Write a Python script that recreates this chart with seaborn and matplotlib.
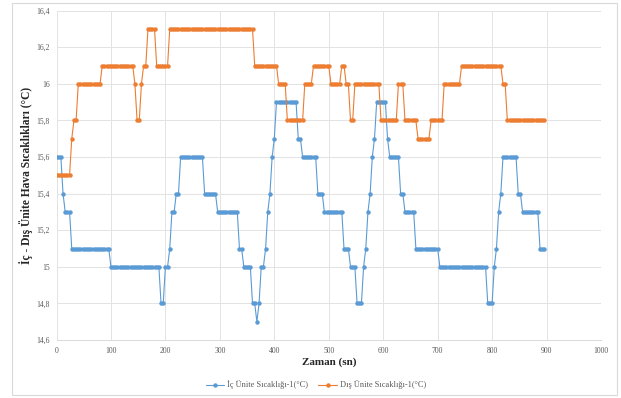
import numpy as np
import pandas as pd
import matplotlib
matplotlib.use("Agg")
import matplotlib.pyplot as plt
from matplotlib.patches import Rectangle
import seaborn as sns

# sampling interval of the logger (s)
time_step = 4

# İç ünite sıcaklığı, one row = 40 s
ic_temp = [
    15.6, 15.6, 15.6, 15.4, 15.3, 15.3, 15.3, 15.1, 15.1, 15.1,
    15.1, 15.1, 15.1, 15.1, 15.1, 15.1, 15.1, 15.1, 15.1, 15.1,
    15.1, 15.1, 15.1, 15.1, 15.1, 15.0, 15.0, 15.0, 15.0, 15.0,
    15.0, 15.0, 15.0, 15.0, 15.0, 15.0, 15.0, 15.0, 15.0, 15.0,
    15.0, 15.0, 15.0, 15.0, 15.0, 15.0, 15.0, 15.0, 14.8, 14.8,
    15.0, 15.0, 15.1, 15.3, 15.3, 15.4, 15.4, 15.6, 15.6, 15.6,
    15.6, 15.6, 15.6, 15.6, 15.6, 15.6, 15.6, 15.6, 15.4, 15.4,
    15.4, 15.4, 15.4, 15.4, 15.3, 15.3, 15.3, 15.3, 15.3, 15.3,
    15.3, 15.3, 15.3, 15.3, 15.1, 15.1, 15.0, 15.0, 15.0, 15.0,
    14.8, 14.8, 14.7, 14.8, 15.0, 15.0, 15.1, 15.3, 15.4, 15.6,
    15.7, 15.9, 15.9, 15.9, 15.9, 15.9, 15.9, 15.9, 15.9, 15.9,
    15.9, 15.7, 15.7, 15.6, 15.6, 15.6, 15.6, 15.6, 15.6, 15.6,
    15.4, 15.4, 15.4, 15.3, 15.3, 15.3, 15.3, 15.3, 15.3, 15.3,
    15.3, 15.3, 15.1, 15.1, 15.1, 15.0, 15.0, 15.0, 14.8, 14.8,
    14.8, 15.0, 15.1, 15.3, 15.4, 15.6, 15.7, 15.9, 15.9, 15.9,
    15.9, 15.9, 15.7, 15.6, 15.6, 15.6, 15.6, 15.6, 15.4, 15.4,
    15.3, 15.3, 15.3, 15.3, 15.3, 15.1, 15.1, 15.1, 15.1, 15.1,
    15.1, 15.1, 15.1, 15.1, 15.1, 15.1, 15.0, 15.0, 15.0, 15.0,
    15.0, 15.0, 15.0, 15.0, 15.0, 15.0, 15.0, 15.0, 15.0, 15.0,
    15.0, 15.0, 15.0, 15.0, 15.0, 15.0, 15.0, 15.0, 14.8, 14.8,
    14.8, 15.0, 15.1, 15.3, 15.4, 15.6, 15.6, 15.6, 15.6, 15.6,
    15.6, 15.6, 15.4, 15.4, 15.3, 15.3, 15.3, 15.3, 15.3, 15.3,
    15.3, 15.3, 15.1, 15.1, 15.1,
]

# Dış ünite sıcaklığı, one row = 40 s
dis_temp = [
    15.5, 15.5, 15.5, 15.5, 15.5, 15.5, 15.5, 15.7, 15.8, 15.8,
    16.0, 16.0, 16.0, 16.0, 16.0, 16.0, 16.0, 16.0, 16.0, 16.0,
    16.0, 16.1, 16.1, 16.1, 16.1, 16.1, 16.1, 16.1, 16.1, 16.1,
    16.1, 16.1, 16.1, 16.1, 16.1, 16.1, 16.0, 15.8, 15.8, 16.0,
    16.1, 16.1, 16.3, 16.3, 16.3, 16.3, 16.1, 16.1, 16.1, 16.1,
    16.1, 16.1, 16.3, 16.3, 16.3, 16.3, 16.3, 16.3, 16.3, 16.3,
    16.3, 16.3, 16.3, 16.3, 16.3, 16.3, 16.3, 16.3, 16.3, 16.3,
    16.3, 16.3, 16.3, 16.3, 16.3, 16.3, 16.3, 16.3, 16.3, 16.3,
    16.3, 16.3, 16.3, 16.3, 16.3, 16.3, 16.3, 16.3, 16.3, 16.3,
    16.3, 16.1, 16.1, 16.1, 16.1, 16.1, 16.1, 16.1, 16.1, 16.1,
    16.1, 16.1, 16.0, 16.0, 16.0, 16.0, 15.8, 15.8, 15.8, 15.8,
    15.8, 15.8, 15.8, 15.8, 16.0, 16.0, 16.0, 16.0, 16.1, 16.1,
    16.1, 16.1, 16.1, 16.1, 16.1, 16.1, 16.0, 16.0, 16.0, 16.0,
    16.0, 16.1, 16.1, 16.0, 16.0, 15.8, 15.8, 16.0, 16.0, 16.0,
    16.0, 16.0, 16.0, 16.0, 16.0, 16.0, 16.0, 16.0, 16.0, 15.8,
    15.8, 15.8, 15.8, 15.8, 15.8, 15.8, 15.8, 16.0, 16.0, 16.0,
    15.8, 15.8, 15.8, 15.8, 15.8, 15.8, 15.7, 15.7, 15.7, 15.7,
    15.7, 15.7, 15.8, 15.8, 15.8, 15.8, 15.8, 15.8, 16.0, 16.0,
    16.0, 16.0, 16.0, 16.0, 16.0, 16.0, 16.1, 16.1, 16.1, 16.1,
    16.1, 16.1, 16.1, 16.1, 16.1, 16.1, 16.1, 16.1, 16.1, 16.1,
    16.1, 16.1, 16.1, 16.1, 16.1, 16.0, 16.0, 15.8, 15.8, 15.8,
    15.8, 15.8, 15.8, 15.8, 15.8, 15.8, 15.8, 15.8, 15.8, 15.8,
    15.8, 15.8, 15.8, 15.8, 15.8,
]

series_names = ["İç Ünite Sıcaklığı-1(°C)", "Dış Ünite Sıcaklığı-1(°C)"]
series_colors = ["#5b9bd5", "#ed7d31"]

x_ticks = [0, 100, 200, 300, 400, 500, 600, 700, 800, 900, 1000]
y_ticks = [14.6, 14.8, 15.0, 15.2, 15.4, 15.6, 15.8, 16.0, 16.2, 16.4]
y_tick_labels = ["14,6", "14,8", "15", "15,2", "15,4", "15,6", "15,8", "16", "16,2", "16,4"]

sns.set_style("white")
plt.rcParams["font.family"] = ["Liberation Serif", "DejaVu Serif"]

fig = plt.figure(figsize=(6.21, 3.98), dpi=100)
fig.patches.append(Rectangle((12 / 621, 3 / 398), 605 / 621, 392 / 398,
                             transform=fig.transFigure, fill=False,
                             edgecolor="#d9d9d9", linewidth=0.8))

ax = fig.add_axes([56.5 / 621, 58 / 398, 544.5 / 621, 329.3 / 398])

for values, name, color in zip([ic_temp, dis_temp], series_names, series_colors):
    df = pd.DataFrame({"t": np.arange(len(values)) * time_step, "temp": values})
    sns.lineplot(data=df, x="t", y="temp", ax=ax, color=color, label=name,
                 linewidth=0.8, marker="o", markersize=3.2,
                 markeredgewidth=0, errorbar=None)

ax.set_xlim(0, 1000)
ax.set_ylim(14.6, 16.4)
ax.set_xticks(x_ticks)
ax.set_yticks(y_ticks)
ax.set_yticklabels(y_tick_labels)
ax.tick_params(axis="both", length=0, labelsize=5.5, labelcolor="#595959", pad=5)
ax.grid(True, color="#e3e3e3", linewidth=0.7)
for side in ["top", "right", "left"]:
    ax.spines[side].set_visible(False)
ax.spines["bottom"].set_color("#d9d9d9")
ax.spines["bottom"].set_linewidth(0.7)

ax.set_xlabel("Zaman (sn)", fontsize=8, fontweight="bold", labelpad=2)
ax.set_ylabel("İç - Dış Ünite Hava Sıcaklıkları (°C)", fontsize=8.3,
              fontweight="bold", labelpad=2)

ax.legend(loc="center", bbox_to_anchor=(316 / 621, 13 / 398),
          bbox_transform=fig.transFigure, ncol=2, frameon=False,
          fontsize=6, columnspacing=1.2, handlelength=2.2, handletextpad=0.4,
          labelcolor="#595959")

fig.savefig("out.png", dpi=100)
